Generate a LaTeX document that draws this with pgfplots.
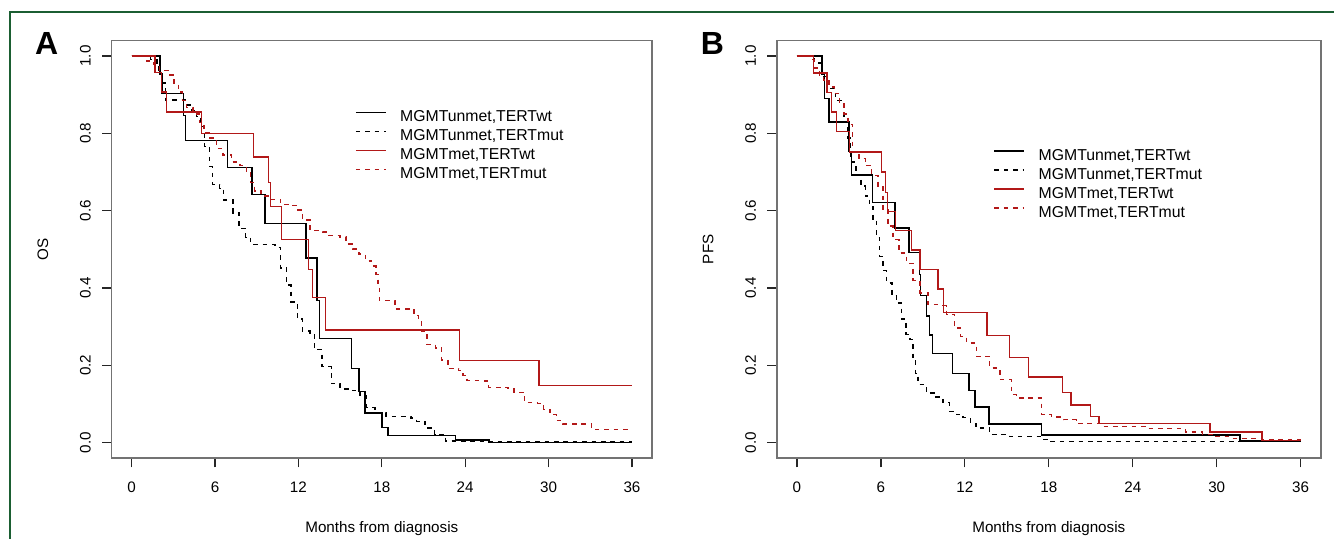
\documentclass[border=0pt]{standalone}
\usepackage{fontspec}
\setmainfont{Liberation Sans}
\usepackage{pgfplots}
\pgfplotsset{compat=1.18}
\definecolor{kmred}{RGB}{178,24,24}
\definecolor{framegreen}{RGB}{27,94,50}

\pgfplotsset{
  kmaxis/.style={
    scale only axis, height=208.7pt,
    xmin=-1.44, xmax=37.44, ymin=-0.04, ymax=1.04,
    xtick={0,6,12,18,24,30,36}, xticklabels={0,6,12,18,24,30,36},
    ytick={0,0.2,0.4,0.6,0.8,1}, yticklabels={0.0,0.2,0.4,0.6,0.8,1.0},
    tick align=outside, tick pos=left, major tick length=4.75pt,
    axis line style={black!55, line width=0.7pt},
    tick style={black!85, line width=0.6pt},
    ticklabel style={font=\fontsize{7.6}{9}\selectfont},
    xticklabel style={yshift=-3.5pt},
    yticklabel style={rotate=90, anchor=south, inner ysep=5.5pt},
    label style={font=\fontsize{7.6}{9}\selectfont},
    xlabel={Months from diagnosis},
    xlabel style={at={([yshift=-35.5pt]axis description cs:0.5,0)}, anchor=center},
    ylabel style={at={([xshift=-34.3pt]axis description cs:0,0.5)}, anchor=center},
    legend cell align=left,
    legend style={draw=none, fill=none, inner sep=0pt, column sep=6.8pt, row sep=2pt,
      font=\fontsize{7.9}{9}\selectfont,
      nodes={inner sep=0pt, text height=5.8pt, text depth=1.7pt}},
    legend image code/.code={\draw[#1] (0pt,2.6pt) -- (15pt,2.6pt);},
  },
  uw/.style={const plot, black, line width=0.7pt},
  um/.style={const plot, black, line width=0.7pt, dash pattern=on 2.3pt off 2.4pt},
  mw/.style={const plot, kmred, line width=0.7pt},
  mm/.style={const plot, kmred, line width=0.7pt, dash pattern=on 2.3pt off 2.4pt},
}

\begin{document}
\begin{tikzpicture}
\useasboundingbox (0pt,0pt) rectangle (667pt,269.5pt);
\draw[framegreen, line width=1.1pt] (4.85pt,-2pt) -- (4.85pt,263.65pt) -- (670pt,263.65pt);

% Panel A: overall survival
\begin{axis}[kmaxis, at={(55.8pt,40.5pt)}, anchor=south west, width=270.2pt,
  ylabel={OS},
  legend style={at={(axis description cs:0.450,0.834)}, anchor=north west}]
\addplot[uw] coordinates {(0,1)(2.05,0.954)(2.2,0.903)(3.73,0.846)(3.87,0.782)(6.92,0.711)(8.65,0.642)(9.6,0.567)(12.55,0.477)(13.35,0.367)(13.5,0.269)(15.8,0.191)(16.35,0.132)(16.8,0.076)(18.0,0.039)(18.45,0.018)(23.3,0.007)(25.7,0.0)(36,0.0)};
\addlegendentry{MGMTunmet,TERTwt}
\addplot[um] coordinates {(0,1)(1.37,0.991)(1.82,0.981)(1.97,0.955)(2.2,0.93)(2.42,0.886)(3.98,0.873)(4.3,0.859)(4.65,0.843)(5.0,0.817)(5.25,0.766)(5.6,0.714)(5.8,0.668)(6.33,0.658)(6.62,0.628)(7.3,0.594)(7.73,0.554)(8.2,0.53)(8.56,0.512)(10.33,0.505)(10.7,0.452)(11.15,0.408)(11.46,0.364)(11.92,0.32)(12.29,0.289)(12.84,0.283)(13.14,0.24)(13.69,0.196)(14.36,0.152)(14.98,0.139)(15.89,0.134)(16.44,0.12)(16.9,0.09)(17.5,0.077)(18.3,0.068)(20.1,0.063)(20.5,0.055)(21.1,0.038)(21.8,0.021)(22.6,0.004)(25.6,0.001)(36,0.001)};
\addlegendentry{MGMTunmet,TERTmut}
\addplot[mw] coordinates {(0,1)(1.68,0.957)(2.16,0.907)(2.53,0.855)(5.04,0.8)(8.76,0.739)(9.83,0.673)(9.98,0.61)(10.8,0.526)(12.71,0.448)(13.02,0.375)(13.94,0.291)(23.6,0.213)(29.3,0.147)(36,0.147)};
\addlegendentry{MGMTmet,TERTwt}
\addplot[mm] coordinates {(0,1)(1.07,0.987)(1.59,0.978)(1.99,0.963)(2.75,0.951)(3.06,0.929)(3.36,0.907)(3.67,0.885)(3.97,0.867)(4.43,0.85)(4.89,0.828)(5.2,0.801)(5.65,0.788)(6.11,0.761)(6.57,0.744)(7.18,0.726)(7.79,0.717)(8.25,0.7)(8.56,0.673)(8.86,0.651)(9.32,0.638)(9.93,0.629)(10.7,0.616)(11.61,0.614)(11.92,0.602)(12.29,0.576)(12.84,0.548)(13.75,0.545)(14.21,0.536)(14.98,0.532)(15.43,0.514)(15.89,0.501)(16.35,0.488)(16.81,0.47)(17.27,0.457)(17.57,0.435)(17.73,0.408)(17.82,0.367)(18.95,0.346)(20.32,0.329)(20.63,0.315)(20.84,0.289)(21.24,0.254)(21.85,0.245)(22.31,0.214)(22.77,0.192)(23.53,0.187)(23.84,0.174)(24.14,0.161)(25.37,0.159)(25.67,0.143)(27.05,0.141)(27.51,0.13)(28.27,0.103)(29.19,0.101)(29.65,0.086)(30.1,0.072)(30.56,0.057)(31.02,0.048)(33.1,0.034)(36,0.034)};
\addlegendentry{MGMTmet,TERTmut}
\end{axis}

% Panel B: progression-free survival
\begin{axis}[kmaxis, at={(388.4pt,40.5pt)}, anchor=south west, width=272pt,
  ylabel={PFS},
  legend style={at={(axis description cs:0.398,0.742)}, anchor=north west}]
\addplot[uw] coordinates {(0,1)(1.78,0.953)(1.98,0.89)(2.29,0.829)(3.72,0.753)(3.88,0.692)(5.38,0.621)(7.0,0.555)(8.02,0.492)(8.76,0.435)(8.85,0.38)(9.24,0.327)(9.46,0.278)(9.67,0.231)(11.13,0.178)(12.29,0.134)(12.72,0.092)(13.73,0.048)(17.48,0.019)(31.67,0.004)(36,0.004)};
\addlegendentry{MGMTunmet,TERTwt}
\addplot[um] coordinates {(0,1)(0.92,0.996)(1.22,0.982)(1.83,0.947)(2.29,0.916)(2.75,0.885)(3.36,0.837)(3.66,0.788)(3.84,0.726)(4.21,0.691)(4.58,0.664)(4.88,0.638)(5.19,0.611)(5.44,0.576)(5.7,0.53)(5.92,0.481)(6.15,0.445)(6.4,0.413)(6.8,0.38)(7.1,0.361)(7.47,0.32)(7.8,0.28)(8.08,0.267)(8.3,0.214)(8.48,0.178)(8.66,0.15)(9.26,0.128)(9.8,0.118)(10.44,0.103)(10.9,0.081)(11.4,0.072)(11.87,0.064)(12.4,0.05)(12.8,0.038)(13.78,0.021)(15.2,0.015)(17.6,0.008)(18.0,0.002)(34,0.002)};
\addlegendentry{MGMTunmet,TERTmut}
\addplot[mw] coordinates {(0,1)(1.2,0.956)(2.15,0.906)(2.48,0.855)(2.83,0.804)(3.75,0.752)(6.04,0.7)(6.31,0.647)(6.47,0.598)(7.05,0.549)(8.18,0.498)(8.79,0.448)(10.07,0.397)(10.49,0.336)(13.58,0.277)(15.19,0.22)(16.53,0.17)(18.97,0.13)(19.58,0.097)(20.96,0.068)(21.6,0.049)(29.53,0.027)(33.25,0.006)(36,0.006)};
\addlegendentry{MGMTmet,TERTwt}
\addplot[mm] coordinates {(0,1)(0.92,0.991)(1.22,0.969)(1.59,0.951)(1.89,0.938)(2.29,0.92)(2.68,0.903)(3.05,0.876)(3.36,0.85)(3.66,0.823)(3.97,0.753)(4.42,0.735)(4.88,0.717)(5.34,0.691)(5.8,0.664)(6.15,0.602)(6.5,0.56)(6.87,0.525)(7.3,0.49)(7.83,0.464)(8.3,0.42)(8.78,0.387)(9.37,0.357)(10.2,0.354)(10.69,0.331)(11.28,0.296)(11.7,0.275)(12.12,0.258)(12.83,0.223)(13.78,0.193)(14.5,0.163)(15.34,0.124)(15.7,0.115)(17.48,0.072)(18.2,0.066)(19.03,0.059)(19.99,0.049)(21.9,0.042)(25.01,0.037)(27.76,0.027)(28.98,0.021)(29.74,0.015)(31.12,0.011)(33.25,0.008)(36,0.008)};
\addlegendentry{MGMTmet,TERTmut}
\end{axis}

\node[font=\bfseries\fontsize{16}{16}\selectfont] at (23.35pt,247.85pt) {A};
\node[font=\bfseries\fontsize{16}{16}\selectfont] at (356.2pt,247.85pt) {B};
\end{tikzpicture}
\end{document}
